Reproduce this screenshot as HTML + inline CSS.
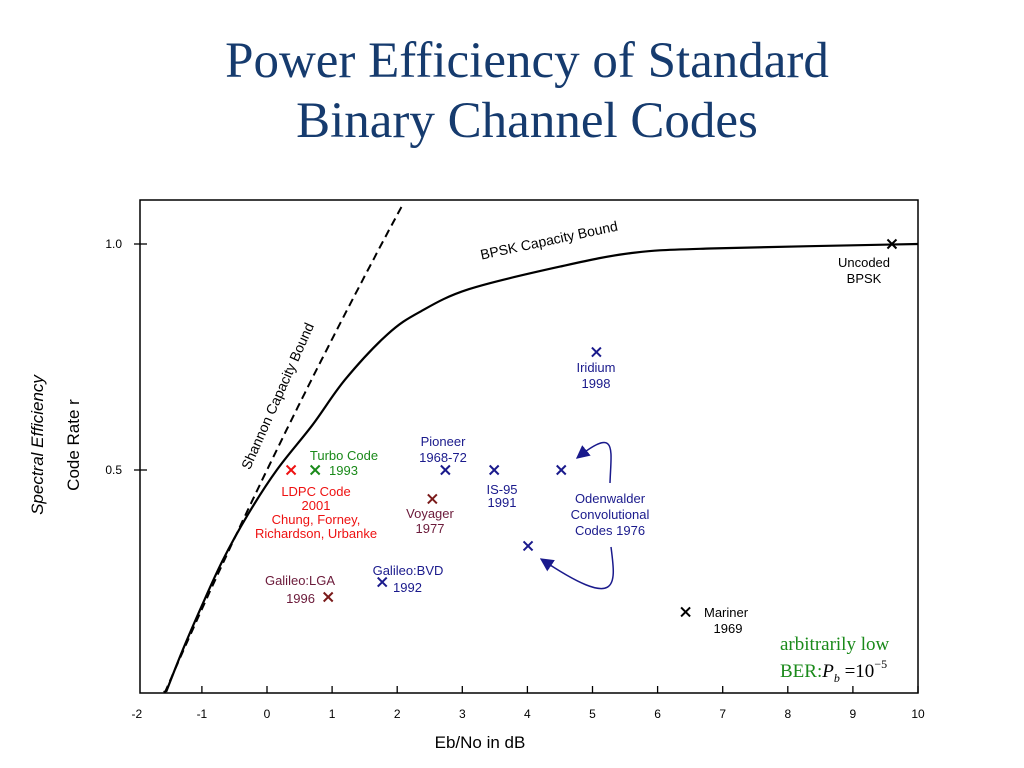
<!DOCTYPE html>
<html><head><meta charset="utf-8"><style>
body{margin:0;background:#fff;width:1024px;height:768px;overflow:hidden}
svg{display:block}
text{font-family:"Liberation Sans",sans-serif}
text.serif{font-family:"Liberation Serif",serif}
</style></head><body>
<svg id="chart" width="1024" height="768" viewBox="0 0 1024 768">
<defs>
<marker id="ah" viewBox="0 0 10 10" refX="9" refY="5" markerWidth="9" markerHeight="9" orient="auto"><path d="M0,0 L10,5 L0,10 z" fill="#1a1a8c"/></marker>
</defs>
<text class="serif" x="527" y="77" text-anchor="middle" font-size="51" fill="#163b6e">Power Efficiency of Standard</text>
<text class="serif" x="527" y="137" text-anchor="middle" font-size="51" fill="#163b6e">Binary Channel Codes</text>
<rect x="140" y="200" width="778" height="493" fill="none" stroke="#000" stroke-width="1.5"/>
<g id="xticks"></g>
<g id="yticks"></g>
<text x="480" y="748" text-anchor="middle" font-size="17">Eb/No in dB</text>
<text transform="translate(43,445) rotate(-90)" text-anchor="middle" font-size="17" font-style="italic">Spectral Efficiency</text>
<text transform="translate(79,445) rotate(-90)" text-anchor="middle" font-size="17">Code Rate r</text>
<g id="curves"></g>
<text transform="translate(282,398) rotate(-66)" text-anchor="middle" font-size="14">Shannon Capacity Bound</text>
<text transform="translate(550,245) rotate(-12)" text-anchor="middle" font-size="14">BPSK Capacity Bound</text>
<g id="points"></g>
<g font-size="13">
<text x="864" y="267" text-anchor="middle">Uncoded</text><text x="864" y="283" text-anchor="middle">BPSK</text>
<text x="596" y="372" text-anchor="middle" fill="#1a1a8c">Iridium</text><text x="596" y="388" text-anchor="middle" fill="#1a1a8c">1998</text>
<text x="443" y="446" text-anchor="middle" fill="#1a1a8c">Pioneer</text><text x="443" y="462" text-anchor="middle" fill="#1a1a8c">1968-72</text>
<text x="502" y="494" text-anchor="middle" fill="#1a1a8c">IS-95</text><text x="502" y="507" text-anchor="middle" fill="#1a1a8c">1991</text>
<text x="610" y="503" text-anchor="middle" fill="#1a1a8c">Odenwalder</text><text x="610" y="519" text-anchor="middle" fill="#1a1a8c">Convolutional</text><text x="610" y="535" text-anchor="middle" fill="#1a1a8c">Codes 1976</text>
<text x="344" y="460" text-anchor="middle" fill="#1a8a1a">Turbo Code</text><text x="329" y="475" fill="#1a8a1a">1993</text>
<text x="316" y="496" text-anchor="middle" fill="#ee1111">LDPC Code</text><text x="316" y="510" text-anchor="middle" fill="#ee1111">2001</text><text x="316" y="524" text-anchor="middle" fill="#ee1111">Chung, Forney,</text><text x="316" y="538" text-anchor="middle" fill="#ee1111">Richardson, Urbanke</text>
<text x="430" y="518" text-anchor="middle" fill="#6b1a3a">Voyager</text><text x="430" y="533" text-anchor="middle" fill="#6b1a3a">1977</text>
<text x="408" y="575" text-anchor="middle" fill="#1a1a8c">Galileo:BVD</text><text x="393" y="592" fill="#1a1a8c">1992</text>
<text x="300" y="585" text-anchor="middle" fill="#6b1a3a">Galileo:LGA</text><text x="315" y="603" text-anchor="end" fill="#6b1a3a">1996</text>
<text x="704" y="617" fill="#000">Mariner</text><text x="728" y="633" text-anchor="middle">1969</text>
</g>
<path d="M610,483 C611,450 618,425 577,458" fill="none" stroke="#1a1a8c" stroke-width="1.5" marker-end="url(#ah)"/>
<path d="M611,547 C616,585 620,612 541,559" fill="none" stroke="#1a1a8c" stroke-width="1.5" marker-end="url(#ah)"/>
<g font-size="19">
<text class="serif" x="780" y="650" fill="#1a8a1a">arbitrarily low</text>
<text class="serif" x="780" y="677" fill="#1a8a1a">BER:<tspan font-style="italic" fill="#000">P</tspan><tspan font-size="12" font-style="italic" dy="5" fill="#000">b</tspan><tspan dy="-5" fill="#000"> =10</tspan><tspan font-size="12" dy="-9" fill="#000">−5</tspan></text>
</g>
</svg>
<script>
const xTicks=[-2,-1,0,1,2,3,4,5,6,7,8,9,10];
const yTicks=[0.5,1.0];
const yTickLabels=["0.5","1.0"];
const bpskRate=[0,0.1,0.2,0.3,0.4,0.5,0.6,0.7,0.8,0.85,0.9,0.95,0.98,0.99,1.0];
const bpskEbNo=[-1.55,-1.3,-1.0,-0.68,-0.3,0.15,0.7,1.2,1.85,2.35,3.1,4.5,5.6,6.8,10];
const ptName=["uncoded-bpsk","iridium","pioneer","is-95","odenwalder-1","odenwalder-2","turbo-code","ldpc-code","voyager","galileo-bvd","galileo-lga","mariner"];
const ptX=[9.6,5.06,2.74,3.49,4.52,4.01,0.74,0.37,2.54,1.77,0.94,6.43];
const ptY=[1.0,0.761,0.5,0.5,0.5,0.332,0.5,0.5,0.436,0.252,0.219,0.186];
const ptColor=["#000","#1a1a8c","#1a1a8c","#1a1a8c","#1a1a8c","#1a1a8c","#1a8a1a","#ee1111","#7a1a1a","#1a1a8c","#7a1a1a","#000"];
const NS="http://www.w3.org/2000/svg";
const X=v=>267+65.1*v, Y=v=>696-452*v;
function mk(t,a,p){const e=document.createElementNS(NS,t);for(const k in a)e.setAttribute(k,a[k]);p.appendChild(e);return e;}
const xg=document.getElementById('xticks');
xTicks.forEach(v=>{
 if(X(v)>=140){
 const l=mk('line',{x1:X(v),x2:X(v),y1:693,y2:686,stroke:'#000','stroke-width':1.3},xg);
 
 
 }
 const t=mk('text',{x:X(v),y:718,'text-anchor':'middle','font-size':12},xg);t.textContent=v;
 
 
});
const yg=document.getElementById('yticks');
yTicks.forEach((v,i)=>{
 const l=mk('line',{x1:134,x2:147,y1:Y(v),y2:Y(v),stroke:'#000','stroke-width':1.3},yg);
 
 
 const t=mk('text',{x:122,y:Y(v)+4,'text-anchor':'end','font-size':12},yg);t.textContent=yTickLabels[i];
 
 
});
const cg=document.getElementById('curves');
let sp=[];
for(let r=0;r<=1.1;r+=0.01){const eb=(Math.pow(2,2*r)-1)/(2*r||1e-6);const db=r===0?-1.59:10*Math.log10(eb);const y=Y(r);if(y<200)break;sp.push(X(db).toFixed(1)+','+Math.min(y,692).toFixed(1));}
const s=mk('polyline',{points:sp.join(' '),fill:'none',stroke:'#000','stroke-width':2,'stroke-dasharray':'8,5'},cg);


const P=bpskRate.map((r,i)=>[Math.min(X(bpskEbNo[i]),918),Math.min(Y(r),692)]);
let d='M'+P[0][0]+','+P[0][1];
for(let i=0;i<P.length-1;i++){
 const p0=P[Math.max(i-1,0)],p1=P[i],p2=P[i+1],p3=P[Math.min(i+2,P.length-1)];
 const c1=[p1[0]+(p2[0]-p0[0])/6,p1[1]+(p2[1]-p0[1])/6],c2=[p2[0]-(p3[0]-p1[0])/6,p2[1]-(p3[1]-p1[1])/6];
 d+=` C${c1[0].toFixed(1)},${c1[1].toFixed(1)} ${c2[0].toFixed(1)},${c2[1].toFixed(1)} ${p2[0].toFixed(1)},${p2[1].toFixed(1)}`;
}
const b=mk('path',{d:d,fill:'none',stroke:'#000','stroke-width':2.2,'stroke-linejoin':'round'},cg);


const pg=document.getElementById('points');
ptX.forEach((v,i)=>{
 const cx=X(v),cy=Y(ptY[i]),r=4.5;
 const g=mk('path',{d:`M${cx-r},${cy-r}L${cx+r},${cy+r}M${cx-r},${cy+r}L${cx+r},${cy-r}`,stroke:ptColor[i],'stroke-width':2},pg);
 
 
});
</script>
</body></html>
